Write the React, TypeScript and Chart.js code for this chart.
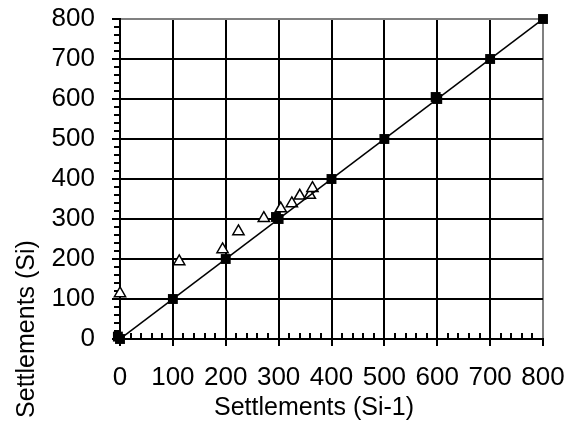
import React, { useEffect, useRef } from "react";
import { Chart, registerables } from "chart.js";

Chart.register(...registerables);

// Solid squares (on the 1:1 line, some overlapping)
const squareX = [0, -4, 100, 200, 300, 295, 400, 500, 600, 597, 700, 800];
const squareY = [0, 6, 100, 200, 300, 305, 400, 500, 600, 605, 700, 800];

// 1:1 reference line
const lineX = [0, 800];
const lineY = [0, 800];

// Open triangles
const triX = [0, 112, 194, 224, 272, 304, 325, 340, 359, 364];
const triY = [114, 194, 224, 269, 302, 326, 339, 358, 360, 377];

const axisMin = 0;
const axisMax = 800;
const majorStep = 100;
const minorStep = 20;

const xTitle = "Settlements (Si-1)";
const yTitle = "Settlements (Si)";

const FONT = "'Liberation Sans', Arial, Helvetica, sans-serif";

const toPoints = (xs: number[], ys: number[]) => xs.map((x, i) => ({ x, y: ys[i] }));

const decorPlugin = {
  id: "decor",
  beforeDatasetsDraw(chart: any) {
    const ctx = chart.ctx;
    const xs = chart.scales.x;
    const ys = chart.scales.y;
    const area = chart.chartArea;
    ctx.save();
    ctx.strokeStyle = "#000";
    ctx.lineWidth = 2;
    for (let v = axisMin; v <= axisMax; v += minorStep) {
      if (v % majorStep === 0) continue;
      // y axis minor ticks: outward (left)
      const py = Math.round(ys.getPixelForValue(v));
      ctx.beginPath();
      ctx.moveTo(area.left - 6, py);
      ctx.lineTo(area.left, py);
      ctx.stroke();
      // x axis minor ticks: inward (up)
      const px = Math.round(xs.getPixelForValue(v));
      ctx.beginPath();
      ctx.moveTo(px, area.bottom);
      ctx.lineTo(px, area.bottom - 6);
      ctx.stroke();
    }
    ctx.restore();
  },
  afterDraw(chart: any) {
    const ctx = chart.ctx;
    ctx.save();
    ctx.fillStyle = "#000";
    ctx.font = `25px ${FONT}`;
    ctx.textAlign = "center";
    ctx.textBaseline = "alphabetic";
    ctx.fillText(xTitle, 314, 415);
    ctx.translate(34, 329);
    ctx.rotate(-Math.PI / 2);
    ctx.fillText(yTitle, 0, 0);
    ctx.restore();
  },
};

export default function App() {
  const ref = useRef<HTMLCanvasElement | null>(null);

  useEffect(() => {
    if (!ref.current) return;
    const gridColor = (c: any) => (c.tick && c.tick.value === axisMax ? "#808080" : "#000");
    const chart = new Chart(ref.current, {
      type: "scatter",
      data: {
        datasets: [
          {
            label: "squares",
            data: toPoints(squareX, squareY),
            pointStyle: "rect",
            pointRadius: 7,
            backgroundColor: "#000",
            borderColor: "#000",
            borderWidth: 0,
            showLine: false,
            clip: false,
          } as any,
          {
            label: "line",
            data: toPoints(lineX, lineY),
            showLine: true,
            pointRadius: 0,
            borderColor: "#000",
            borderWidth: 1.5,
            backgroundColor: "#000",
          } as any,
          {
            label: "triangles",
            data: toPoints(triX, triY),
            pointStyle: "triangle",
            pointRadius: 6.5,
            backgroundColor: "#fff",
            borderColor: "#000",
            borderWidth: 1.5,
            showLine: false,
            clip: false,
          } as any,
        ],
      },
      options: {
        animation: false,
        responsive: false,
        maintainAspectRatio: false,
        layout: { padding: { left: 0, top: 19, right: 26, bottom: 0 } },
        plugins: { legend: { display: false }, tooltip: { enabled: false } },
        scales: {
          x: {
            type: "linear",
            min: axisMin,
            max: axisMax,
            afterFit: (s: any) => {
              s.height = 86;
              s.paddingLeft = 0;
              s.paddingRight = 0;
            },
            ticks: {
              stepSize: majorStep,
              color: "#000",
              padding: 16,
              maxRotation: 0,
              font: { family: FONT, size: 26 },
            },
            grid: {
              color: gridColor,
              lineWidth: 2,
              drawTicks: true,
              tickLength: 7,
              tickColor: "#000",
              tickWidth: 2,
            },
            border: { display: true, color: "#000", width: 2 },
          },
          y: {
            type: "linear",
            min: axisMin,
            max: axisMax,
            afterFit: (s: any) => {
              s.width = 120;
              s.paddingTop = 0;
              s.paddingBottom = 0;
            },
            ticks: {
              stepSize: majorStep,
              color: "#000",
              padding: 17,
              font: { family: FONT, size: 26 },
            },
            grid: {
              color: gridColor,
              lineWidth: 2,
              drawTicks: true,
              tickLength: 8,
              tickColor: "#000",
              tickWidth: 2,
            },
            border: { display: true, color: "#000", width: 2 },
          },
        },
      },
      plugins: [decorPlugin],
    });
    return () => chart.destroy();
  }, []);

  return (
    <div style={{ position: "fixed", left: 0, top: 0, width: 569, height: 425, background: "#fff" }}>
      <canvas ref={ref} width={569} height={425} />
    </div>
  );
}
